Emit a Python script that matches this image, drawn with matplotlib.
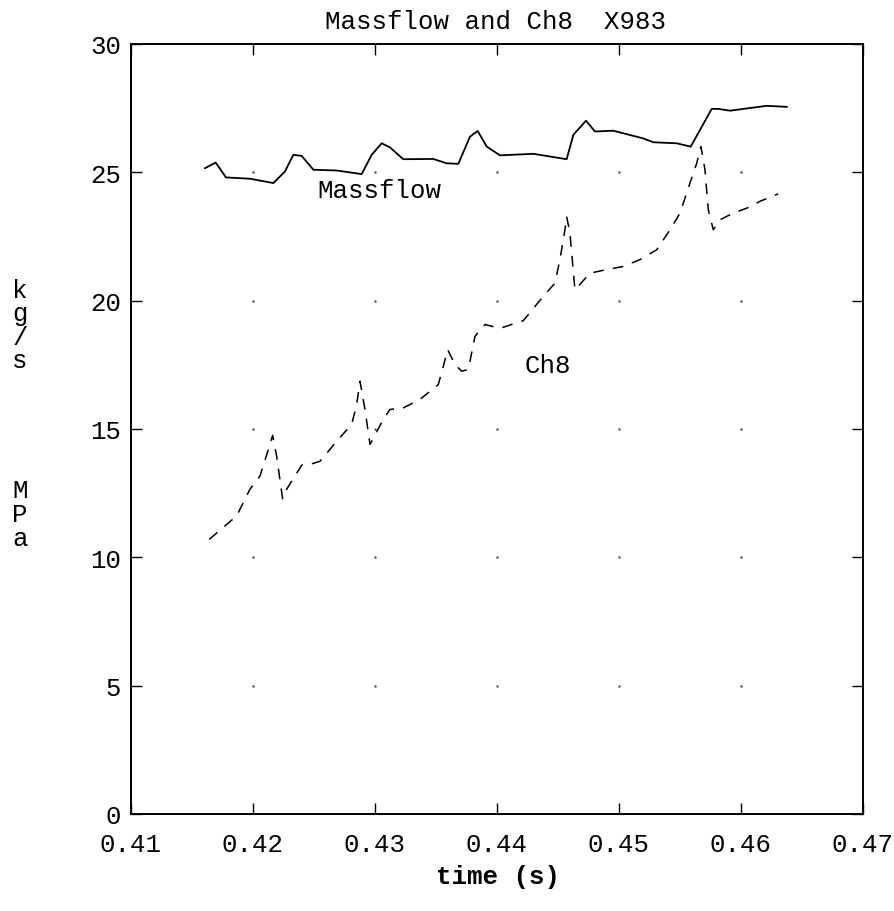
import numpy as np
import matplotlib
matplotlib.use('Agg')
import matplotlib.pyplot as plt

# massflow trace (kg/s)
mf_t = [0.41607, 0.41694, 0.41779, 0.41975, 0.42167, 0.42262, 0.42331, 0.42399,
        0.42495, 0.42686, 0.42891, 0.42973, 0.43055, 0.43123, 0.43232, 0.43478,
        0.43588, 0.43683, 0.43779, 0.43842, 0.43916, 0.44025, 0.44298, 0.44571,
        0.44626, 0.44730, 0.44803, 0.44953, 0.45199, 0.45281, 0.45473, 0.45588,
        0.45664, 0.45760, 0.45814, 0.45910, 0.46211, 0.46375]
mf_v = [25.16, 25.38, 24.80, 24.75, 24.58, 25.03, 25.68, 25.64,
        25.10, 25.07, 24.93, 25.68, 26.13, 25.97, 25.51, 25.52,
        25.35, 25.33, 26.39, 26.61, 26.00, 25.66, 25.72, 25.51,
        26.46, 27.01, 26.59, 26.62, 26.32, 26.17, 26.13, 26.00,
        26.65, 27.47, 27.47, 27.40, 27.59, 27.55]

# channel 8 pressure (MPa)
ch8_t = [0.41642, 0.41866, 0.41975, 0.42057, 0.42126, 0.42161, 0.42194, 0.42243,
         0.42276, 0.42399, 0.42467, 0.42549, 0.42686, 0.42809, 0.42850, 0.42877,
         0.42918, 0.42959, 0.43068, 0.43123, 0.43232, 0.43369, 0.43519, 0.43560,
         0.43596, 0.43656, 0.43711, 0.43765, 0.43820, 0.43902, 0.44025, 0.44216,
         0.44380, 0.44475, 0.44516, 0.44557, 0.44571, 0.44598, 0.44639, 0.44666,
         0.44762, 0.44899, 0.45035, 0.45172, 0.45309, 0.45418, 0.45500, 0.45582,
         0.45637, 0.45672, 0.45705, 0.45732, 0.45773, 0.45828, 0.45937, 0.46046,
         0.46156, 0.46305]
ch8_v = [10.70, 11.61, 12.65, 13.16, 14.20, 14.75, 13.94, 12.28,
         12.65, 13.59, 13.62, 13.74, 14.52, 15.18, 15.95, 16.86,
         15.76, 14.40, 15.37, 15.76, 15.82, 16.15, 16.73, 17.44,
         18.09, 17.51, 17.25, 17.32, 18.61, 19.07, 18.92, 19.22,
         20.17, 20.68, 21.60, 22.76, 23.28, 22.63, 20.43, 20.56,
         21.07, 21.21, 21.33, 21.60, 21.98, 22.76, 23.41, 24.58,
         25.35, 26.00, 25.10, 23.54, 22.76, 23.15, 23.41, 23.60,
         23.87, 24.16]

xticks = [0.41, 0.42, 0.43, 0.44, 0.45, 0.46, 0.47]
yticks = [0, 5, 10, 15, 20, 25, 30]

mono = 'Liberation Mono'
fs = 18.5

fig = plt.figure(figsize=(8.94, 9.12), dpi=100)
ax = fig.add_axes([0.1465, 0.1064, 0.8188, 0.8443])

ax.plot(mf_t, mf_v, color='black', lw=1.3)
ax.plot(ch8_t, ch8_v, color='black', lw=1.1, dashes=(7, 6))

# grid dots at tick intersections
gx, gy = np.meshgrid(xticks[1:-1], yticks[1:-1])
ax.plot(gx.ravel(), gy.ravel(), ls='none', marker='.', ms=1.5, color='#555555')

ax.set_xlim(0.41, 0.47)
ax.set_ylim(0, 30)
ax.set_xticks(xticks)
ax.set_yticks(yticks)
ax.set_xticklabels(['%.2f' % t for t in xticks], family=mono, fontsize=fs)
ax.set_yticklabels([str(t) for t in yticks], family=mono, fontsize=fs)
ax.tick_params(direction='in', length=8, width=1, top=True, right=True, pad=7)
ax.tick_params(axis='x', pad=13)
for s in ax.spines.values():
    s.set_linewidth(1.4)

ax.text(0.43033, 24.3, 'Massflow', family=mono, fontsize=fs, ha='center', va='center')
ax.text(0.4442, 17.5, 'Ch8', family=mono, fontsize=fs, ha='center', va='center')

fig.text(0.5537, 1 - 22 / 912, 'Massflow and Ch8  X983', family=mono, fontsize=fs,
         ha='center', va='center')
fig.text(0.5565, 1 - 877 / 912, 'time (s)', family=mono, fontsize=fs, weight='bold',
         ha='center', va='center')
fig.text(20 / 894, 1 - 326 / 912, 'k\ng\n/\ns', family=mono, fontsize=fs,
         ha='center', va='center', linespacing=0.98)
fig.text(20 / 894, 1 - 515 / 912, 'M\nP\na', family=mono, fontsize=fs,
         ha='center', va='center', linespacing=0.98)

fig.savefig('out.png', dpi=100)
